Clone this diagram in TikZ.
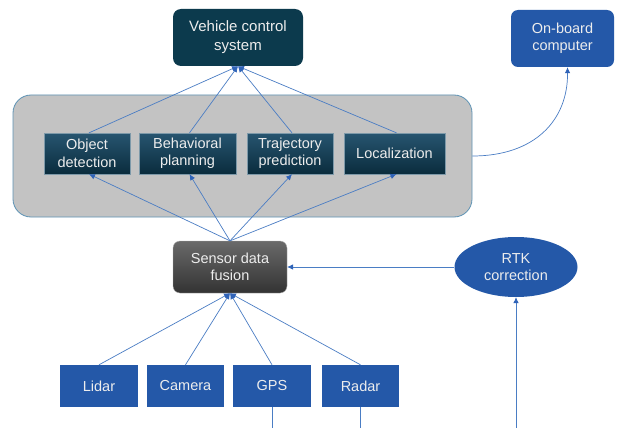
\documentclass[tikz,border=0pt]{standalone}
\usepackage{fontspec}
\setmainfont{Liberation Sans}
\usetikzlibrary{shapes.geometric,arrows.meta}
\definecolor{linkblue}{HTML}{4A7DC4}
\definecolor{tipblue}{HTML}{2F63B8}
\definecolor{deepteal}{HTML}{0C3A4D}
\definecolor{tealtop}{HTML}{275570}
\definecolor{tealbot}{HTML}{0A2C3D}
\definecolor{unitblue}{HTML}{2458A8}
\definecolor{panelgray}{HTML}{C3C3C3}
\definecolor{panelrim}{HTML}{5E93B5}
\definecolor{labelwhite}{HTML}{EDEDED}
\tikzset{
  box/.style={rectangle, text=labelwhite, font=\fontsize{14.5}{17.5}\selectfont,
    align=center, inner sep=0pt},
  ctrlbox/.style={box, rounded corners=8pt, fill=deepteal, font=\fontsize{15}{19}\selectfont},
  pcbox/.style={box, rounded corners=7pt, fill=unitblue},
  taskbox/.style={box, top color=tealtop, bottom color=tealbot, draw=tealtop!60!white, line width=0.3pt},
  fusebox/.style={box, rounded corners=7pt, top color=gray!70!black!90, bottom color=gray!40!black, draw=gray!60, line width=0.3pt},
  sensbox/.style={box, fill=unitblue},
  link/.style={draw=linkblue, line width=0.7pt},
  arrowlink/.style={link, -{Latex[length=6pt,width=5.5pt,color=tipblue]}},
}
\begin{document}
\begin{tikzpicture}[x=1pt,y=-1pt]
\useasboundingbox[fill=white] (0,0) rectangle (619,428);

% processing panel
\node[rectangle, rounded corners=18pt, fill=panelgray, draw=panelrim, line width=0.8pt,
      minimum width=459pt, minimum height=122pt] (panel) at (242.5,156) {};

% top level
\node[ctrlbox, minimum width=130pt, minimum height=57pt] (vcs) at (238,37.5) {Vehicle control\\system};
\node[pcbox, minimum width=103pt, minimum height=57pt] (obc) at (562.5,38.5) {On-board\\computer};

% perception and planning tasks
\node[taskbox, minimum width=86pt, minimum height=41pt] (obj) at (87,153.5) {Object\\detection};
\node[taskbox, minimum width=97pt, minimum height=41pt] (beh) at (187.5,153.5) {Behavioral\\planning};
\node[taskbox, minimum width=86pt, minimum height=41pt] (traj) at (290,153.5) {Trajectory\\prediction};
\node[taskbox, minimum width=101pt, minimum height=41pt] (loc) at (394.5,153.5) {Localization};

% fusion and correction
\node[fusebox, minimum width=114pt, minimum height=52pt] (fuse) at (230,267) {Sensor data\\fusion};
\node[ellipse, fill=unitblue, text=labelwhite, font=\fontsize{14.5}{17.5}\selectfont, align=center,
      inner sep=0pt, minimum width=123pt, minimum height=60pt] (rtk) at (516,267) {RTK\\correction};

% sensors
\node[sensbox, minimum width=78pt, minimum height=42pt] (lidar) at (99,386) {Lidar};
\node[sensbox, minimum width=77pt, minimum height=42pt] (cam) at (185.5,386) {Camera};
\node[sensbox, minimum width=78pt, minimum height=42pt] (gps) at (272,386) {GPS};
\node[sensbox, minimum width=77pt, minimum height=42pt] (radar) at (360.5,386) {Radar};

% lines leaving the lower edge
\coordinate (gpsout) at (272,428);
\coordinate (radarout) at (360.5,428);
\coordinate (rtkin) at (516,428);

% sensors into fusion
\foreach \s in {lidar,cam,gps,radar}
  \draw[arrowlink] (\s.north) -- (fuse.south);

% fusion into tasks
\foreach \t in {obj,beh,traj,loc}
  \draw[arrowlink] (fuse.north) -- ([xshift=2pt]\t.south);

% tasks into vehicle control
\foreach \t in {obj,beh,traj,loc}
  \draw[arrowlink] ([xshift=2pt]\t.north) -- (vcs.south);

% correction path
\draw[arrowlink] (rtkin) -- (rtk.south);
\draw[arrowlink] (rtk.west) -- (fuse.east);
\draw[link] (gps.south) -- (gpsout);
\draw[link] (radar.south) -- (radarout);

% panel to on-board computer
\draw[arrowlink] (panel.east) .. controls (535,156) and (568,120) .. ([xshift=5pt]obc.south);
\end{tikzpicture}
\end{document}
